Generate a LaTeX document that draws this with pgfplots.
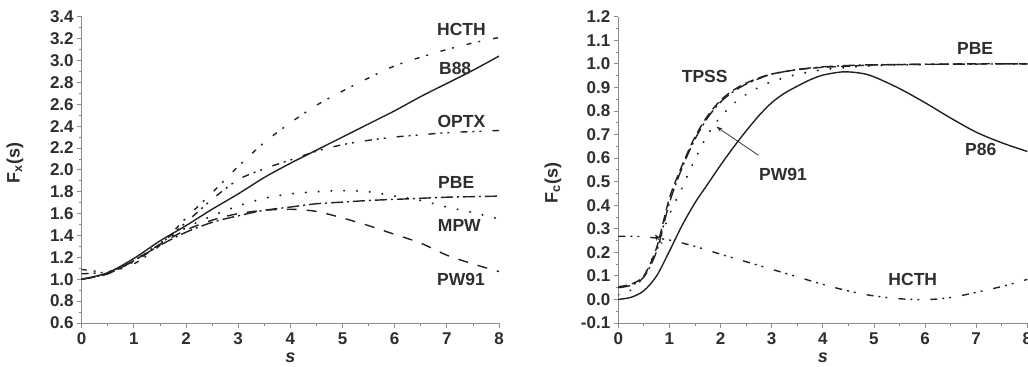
\documentclass[border=0pt]{standalone}
\usepackage{fontspec}
\setmainfont{Liberation Sans}
\usepackage{pgfplots}
\pgfplotsset{compat=1.18}
\usetikzlibrary{arrows.meta}
\definecolor{axgray}{HTML}{8C8C8C}
\definecolor{curve}{HTML}{222222}
\definecolor{txt}{HTML}{2E2E2E}
\tikzset{
  lab/.style={font=\fontsize{17.5bp}{19bp}\selectfont\bfseries, text=txt},
  sdash/.style={dash pattern=on 10bp off 10bp},
  sdot/.style={line cap=round, dash pattern=on 0.3bp off 12.5bp, line width=2bp},
  sdashdot/.style={dash pattern=on 12bp off 4bp on 2bp off 4bp},
  sdashdotdot/.style={dash pattern=on 7bp off 5bp on 2bp off 5bp on 2bp off 11bp},
  sshortdashdot/.style={dash pattern=on 5bp off 7bp on 2bp off 13bp},
}
\pgfplotsset{
  myaxis/.style={
    scale only axis,
    anchor=south west,
    xmin=0, xmax=8,
    axis lines=left,
    axis line style={-, draw=axgray, line width=0.9bp},
    tick align=outside,
    major tick length=4.5bp,
    minor tick length=2.5bp,
    every tick/.style={draw=axgray, line width=0.8bp},
    minor x tick num=1,
    minor y tick num=1,
    xtick={0,1,2,3,4,5,6,7,8},
    tick label style={font=\fontsize{17bp}{19bp}\selectfont\bfseries, text=txt},
    /pgf/number format/assume math mode=true,
    yticklabel style={/pgf/number format/.cd, fixed, fixed zerofill, precision=1},
    xticklabel style={yshift=-2bp, /pgf/number format/.cd, fixed, precision=0},
    label style={font=\fontsize{18bp}{20bp}\selectfont\bfseries, text=txt},
    xlabel style={at={(axis description cs:0.5,-0.115)}, anchor=center},
    every axis plot/.append style={line width=1.4bp, draw=curve, smooth, no markers},
  },
}
\begin{document}
\begin{tikzpicture}
\useasboundingbox (0,0) rectangle (1028bp,367bp);
% ---------------- Left: exchange ----------------
\begin{axis}[myaxis,
  at={(81.7bp,44bp)}, width=417.3bp, height=306.3bp,
  ymin=0.6, ymax=3.4,
  ytick={0.6,0.8,1.0,1.2,1.4,1.6,1.8,2.0,2.2,2.4,2.6,2.8,3.0,3.2,3.4},
  xlabel={\textit{s}},
  ylabel={F\textsubscript{x}(s)},
  ylabel style={at={(axis description cs:-0.16,0.523)}, anchor=center, rotate=0},
]
% HCTH
\addplot[sshortdashdot] coordinates {(0,1.09) (0.5,1.07) (1,1.14) (1.5,1.31) (2,1.56) (2.5,1.79) (3,2.03) (3.5,2.25) (4,2.43) (4.5,2.59) (5,2.72) (5.5,2.84) (6,2.95) (6.5,3.03) (7,3.10) (7.5,3.16) (8,3.21)};
% B88
\addplot[solid] coordinates {(0,1.00) (0.5,1.06) (1,1.19) (1.5,1.35) (2,1.49) (2.5,1.64) (3,1.78) (3.5,1.93) (4,2.06) (4.5,2.18) (5,2.30) (5.5,2.42) (6,2.54) (6.5,2.67) (7,2.79) (7.5,2.91) (8,3.04)};
% OPTX
\addplot[sdashdotdot] coordinates {(0,1.05) (0.5,1.07) (1,1.16) (1.5,1.32) (2,1.52) (2.5,1.73) (3,1.91) (3.5,2.01) (4,2.09) (4.5,2.17) (5,2.23) (5.5,2.27) (6,2.30) (6.5,2.32) (7,2.34) (7.5,2.35) (8,2.36)};
% PBE
\addplot[sdashdot] coordinates {(0,1.00) (0.5,1.05) (1,1.17) (1.5,1.31) (2,1.43) (2.5,1.52) (3,1.58) (3.5,1.63) (4,1.66) (4.5,1.69) (5,1.705) (5.5,1.72) (6,1.73) (6.5,1.74) (7,1.75) (7.5,1.755) (8,1.76)};
% MPW
\addplot[sdot] coordinates {(0,1.00) (0.5,1.05) (1,1.17) (1.5,1.33) (2,1.47) (2.5,1.58) (3,1.67) (3.5,1.74) (4,1.78) (4.5,1.80) (5,1.81) (5.5,1.80) (6,1.76) (6.5,1.72) (7,1.66) (7.5,1.61) (8,1.55)};
% PW91
\addplot[sdash] coordinates {(0,1.00) (0.5,1.05) (1,1.17) (1.5,1.32) (2,1.45) (2.5,1.54) (3,1.60) (3.5,1.63) (4,1.64) (4.5,1.62) (5,1.56) (5.5,1.49) (6,1.41) (6.5,1.33) (7,1.22) (7.5,1.14) (8,1.07)};
\node[lab] at (axis cs:7.28,3.28) {HCTH};
\node[lab] at (axis cs:7.16,2.93) {B88};
\node[lab] at (axis cs:7.28,2.44) {OPTX};
\node[lab] at (axis cs:7.18,1.88) {PBE};
\node[lab] at (axis cs:7.24,1.49) {MPW};
\node[lab] at (axis cs:7.27,1.00) {PW91};
\end{axis}
% ---------------- Right: correlation ----------------
\begin{axis}[myaxis,
  at={(618.3bp,44bp)}, width=409bp, height=306.3bp,
  ymin=-0.1, ymax=1.2,
  ytick={-0.1,0.0,0.1,0.2,0.3,0.4,0.5,0.6,0.7,0.8,0.9,1.0,1.1,1.2},
  xlabel={\textit{s}},
  ylabel={F\textsubscript{c}(s)},
  ylabel style={at={(axis description cs:-0.16,0.457)}, anchor=center, rotate=0},
]
% P86
\addplot[solid] coordinates {(0,0) (0.25,0.009) (0.5,0.037) (0.75,0.10) (1,0.205) (1.25,0.315) (1.5,0.41) (1.75,0.49) (2,0.57) (2.25,0.645) (2.5,0.715) (2.75,0.78) (3,0.835) (3.25,0.875) (3.5,0.905) (3.75,0.932) (4,0.952) (4.4,0.966) (4.75,0.96) (5,0.945) (5.5,0.895) (6,0.835) (6.5,0.77) (7,0.71) (7.5,0.665) (8,0.628)};
% TPSS
\addplot[dash pattern=on 9bp off 5bp] coordinates {(0,0.054) (0.25,0.065) (0.5,0.10) (0.75,0.22) (1,0.43) (1.25,0.57) (1.5,0.69) (1.75,0.78) (2,0.845) (2.25,0.888) (2.5,0.918) (2.75,0.94) (3,0.957) (3.5,0.975) (4,0.985) (4.5,0.99) (5,0.995) (6,0.998) (7,1.0) (8,1.0)};
% PBE
\addplot[sdashdot] coordinates {(0,0.05) (0.25,0.06) (0.5,0.095) (0.75,0.205) (1,0.41) (1.25,0.56) (1.5,0.68) (1.75,0.772) (2,0.838) (2.25,0.882) (2.5,0.914) (2.75,0.937) (3,0.956) (3.5,0.976) (4,0.987) (4.5,0.993) (5,0.996) (6,0.998) (7,0.999) (8,1.0)};
% PW91
\addplot[sdot] coordinates {(0,0.02) (0.25,0.04) (0.5,0.10) (0.75,0.22) (1,0.36) (1.25,0.475) (1.5,0.595) (1.75,0.70) (2,0.775) (2.25,0.83) (2.5,0.87) (2.75,0.90) (3,0.925) (3.5,0.955) (4,0.975) (4.5,0.985) (5,0.992) (6,0.997) (7,1.0) (8,1.0)};
% HCTH
\addplot[sdashdotdot] coordinates {(0,0.268) (0.5,0.266) (1,0.252) (1.5,0.225) (2,0.192) (2.5,0.16) (3,0.128) (3.5,0.096) (4,0.064) (4.5,0.036) (5,0.015) (5.5,0.003) (6,-0.001) (6.5,0.008) (7,0.03) (7.5,0.055) (8,0.085)};
\draw[-{Stealth[length=6bp,width=4bp]}, line width=0.7bp, draw=curve] (axis cs:2.74,0.612) -- (axis cs:1.92,0.733);
\draw[-{Stealth[length=6bp,width=5bp]}, line width=0.7bp, draw=curve] (axis cs:0.86,0.235) -- (axis cs:0.72,0.275);
\node[lab] at (axis cs:6.98,1.065) {PBE};
\node[lab] at (axis cs:1.69,0.945) {TPSS};
\node[lab] at (axis cs:3.22,0.53) {PW91};
\node[lab] at (axis cs:7.09,0.636) {P86};
\node[lab] at (axis cs:5.76,0.084) {HCTH};
\end{axis}
\end{tikzpicture}
\end{document}
